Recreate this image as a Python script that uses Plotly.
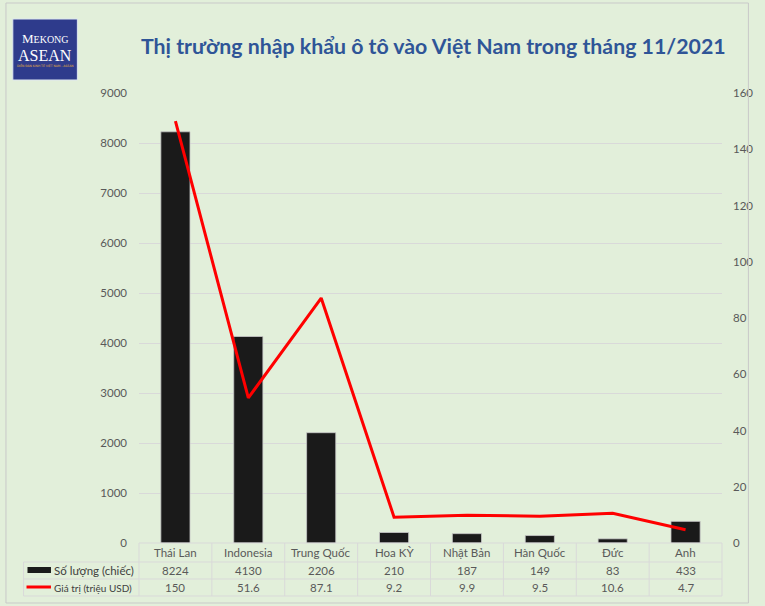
import plotly.graph_objects as go

# data
countries = ["Thái Lan", "Indonesia", "Trung Quốc", "Hoa KỲ", "Nhật Bản", "Hàn Quốc", "Đức", "Anh"]
so_luong = [8224, 4130, 2206, 210, 187, 149, 83, 433]
gia_tri = [150, 51.6, 87.1, 9.2, 9.9, 9.5, 10.6, 4.7]
gia_tri_txt = ["150", "51.6", "87.1", "9.2", "9.9", "9.5", "10.6", "4.7"]

BG = "#E2EFDA"
GRID = "#D9D9D9"
TXT = "#595959"
FONT = "Lato"

# plot area in pixels (used to place the data table underneath)
W, H = 765, 606
L, R, T, B = 139, 735, 93, 543
pw, ph = R - L, B - T


def px(x):
    return (x - L) / pw


def py(y):
    return (B - y) / ph


fig = go.Figure()

fig.add_trace(go.Bar(
    x=countries, y=so_luong, name="Số lượng (chiếc)",
    marker=dict(color="#1A1A1A", line=dict(color="#C8C8C8", width=0.8)),
    width=0.4, yaxis="y",
))
fig.add_trace(go.Scatter(
    x=countries, y=gia_tri, name="Giá trị (triệu USD)", mode="lines",
    line=dict(color="#FF0000", width=3), yaxis="y2",
))

fig.update_layout(
    width=W, height=H,
    margin=dict(l=L, r=W - R, t=T, b=H - B, pad=0),
    paper_bgcolor=BG, plot_bgcolor=BG,
    showlegend=False,
    font=dict(family=FONT, size=11.5, color=TXT),
    xaxis=dict(showticklabels=False, showgrid=False, zeroline=False,
               showline=False, ticks="", type="category"),
    yaxis=dict(range=[0, 9000], dtick=1000, showgrid=True, gridcolor=GRID,
               gridwidth=1, zeroline=False, showline=False, ticks="",
               ticklabelstandoff=11, tickfont=dict(size=11.5, color=TXT)),
    yaxis2=dict(range=[0, 160], dtick=20, overlaying="y", side="right",
                showgrid=False, zeroline=False, showline=False, ticks="",
                ticklabelstandoff=10, tickfont=dict(size=11.5, color=TXT)),
    bargap=0.6,
)

shapes = []
# outer chart border
shapes.append(dict(type="rect", xref="paper", yref="paper",
                   x0=px(3), x1=px(762), y0=py(3), y1=py(603),
                   line=dict(color="#C9C9C9", width=1)))

# data table grid
tl = dict(color=GRID, width=1)
col_w = pw / len(countries)
shapes.append(dict(type="line", xref="paper", yref="paper",
                   x0=px(L), x1=px(R), y0=py(543), y1=py(543), line=tl))
for yy in [562, 579, 596]:
    shapes.append(dict(type="line", xref="paper", yref="paper",
                       x0=px(21), x1=px(R), y0=py(yy), y1=py(yy), line=tl))
shapes.append(dict(type="line", xref="paper", yref="paper",
                   x0=px(21), x1=px(21), y0=py(562), y1=py(596), line=tl))
for k in range(len(countries) + 1):
    xx = L + k * col_w
    shapes.append(dict(type="line", xref="paper", yref="paper",
                       x0=px(xx), x1=px(xx), y0=py(543), y1=py(596), line=tl))

# legend keys inside the table
shapes.append(dict(type="rect", xref="paper", yref="paper",
                   x0=px(25), x1=px(49), y0=py(567), y1=py(573),
                   fillcolor="#1A1A1A", line=dict(width=0)))
shapes.append(dict(type="line", xref="paper", yref="paper",
                   x0=px(24), x1=px(49), y0=py(587), y1=py(587),
                   line=dict(color="#FF0000", width=3)))

# logo box
shapes.append(dict(type="rect", xref="paper", yref="paper",
                   x0=px(10), x1=px(76), y0=py(19), y1=py(80),
                   fillcolor="#2E3B8C", line=dict(color="#DDE6F0", width=1)))

fig.update_layout(shapes=shapes)

ann = []


def note(x, y, text, size, color, family=FONT, xanchor="center", xref="paper"):
    ann.append(dict(x=x, y=py(y), xref=xref, yref="paper", text=text,
                    xanchor=xanchor, yanchor="middle", showarrow=False,
                    font=dict(family=family, size=size, color=color)))


for c, n, v in zip(countries, so_luong, gia_tri_txt):
    note(c, 552.5, c, 11.5, TXT, xref="x")
    note(c, 570.5, str(n), 11.5, TXT, xref="x")
    note(c, 587.5, v, 11.5, TXT, xref="x")

note(px(50), 570.5, "Số lượng (chiếc)", 11.5, "#404040", xanchor="left")
note(px(50), 587.5, "Giá trị (triệu USD)", 10, "#404040", xanchor="left")

# title
note(px(440), 46, "<b>Thị trường nhập khẩu ô tô vào Việt Nam trong tháng 11/2021</b>",
     21.3, "#2F5597")

# logo text
note(px(43), 38.5, "M<span style='font-size:10px'>EKONG</span>", 13, "white",
     family="Liberation Serif")
note(px(43), 55.5, "ASEAN", 16, "white", family="Liberation Serif")
note(px(43), 66, "DIỄN ĐÀN KINH TẾ VIỆT NAM - ASEAN", 3, "#E8B33A",
     family="DejaVu Sans")

fig.update_layout(annotations=ann)

fig.write_html("out.html", config={"displayModeBar": False},
               post_script="document.body.style.margin='0';")
